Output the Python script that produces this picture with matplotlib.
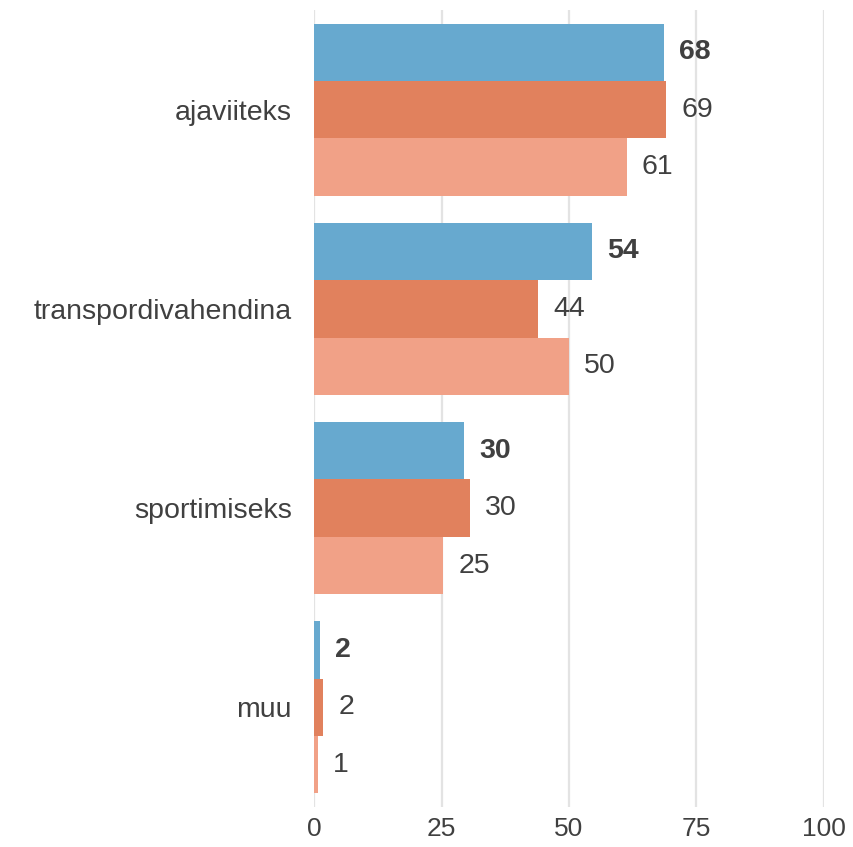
import matplotlib
matplotlib.use("Agg")
import matplotlib.pyplot as plt
import numpy as np

plt.rcParams['font.family'] = ['Liberation Sans', 'DejaVu Sans']

categories = ["ajaviiteks", "transpordivahendina", "sportimiseks", "muu"]
series_a = [68.6, 54.5, 29.4, 1.2]
series_b = [69.1, 44.0, 30.6, 1.8]
series_c = [61.3, 50.0, 25.3, 0.8]
labels_a = ["68", "54", "30", "2"]
labels_b = ["69", "44", "30", "2"]
labels_c = ["61", "50", "25", "1"]
xticks = [0, 25, 50, 75, 100]

colors = ["#67A9CF", "#E1815D", "#F1A187"]
text_col = "#404040"

fig = plt.figure(figsize=(8.54, 8.47), dpi=100)
ax = fig.add_axes([314/854, 1 - 807/847, 510/854, 797/847])

y = np.arange(len(categories))
h = 0.288
series = [series_a, series_b, series_c]
labels = [labels_a, labels_b, labels_c]
offsets = [-h, 0, h]
for i, (vals, labs) in enumerate(zip(series, labels)):
    ax.barh(y + offsets[i], vals, height=h, color=colors[i], zorder=2,
            edgecolor='none')
    for yy, v, lab in zip(y + offsets[i], vals, labs):
        ax.annotate(lab, (v, yy), xytext=(11, 0), textcoords='offset points',
                    ha='left', va='center', fontsize=20.5, color=text_col,
                    fontweight='bold' if i == 0 else 'normal')

ax.set_xlim(0, 100)
ax.set_ylim(3.5, -0.5)
ax.set_xticks(xticks)
ax.set_xticklabels([str(t) for t in xticks])
ax.set_yticks(y)
ax.set_yticklabels(categories)
ax.tick_params(axis='both', length=0, labelcolor=text_col)
ax.tick_params(axis='y', pad=16, labelsize=20.5)
ax.tick_params(axis='x', pad=7, labelsize=19)
for s in ax.spines.values():
    s.set_visible(False)
ax.grid(axis='x', color='#E3E3E3', linewidth=1.6, zorder=0)
ax.set_axisbelow(True)

fig.savefig("out.png", dpi=100)
